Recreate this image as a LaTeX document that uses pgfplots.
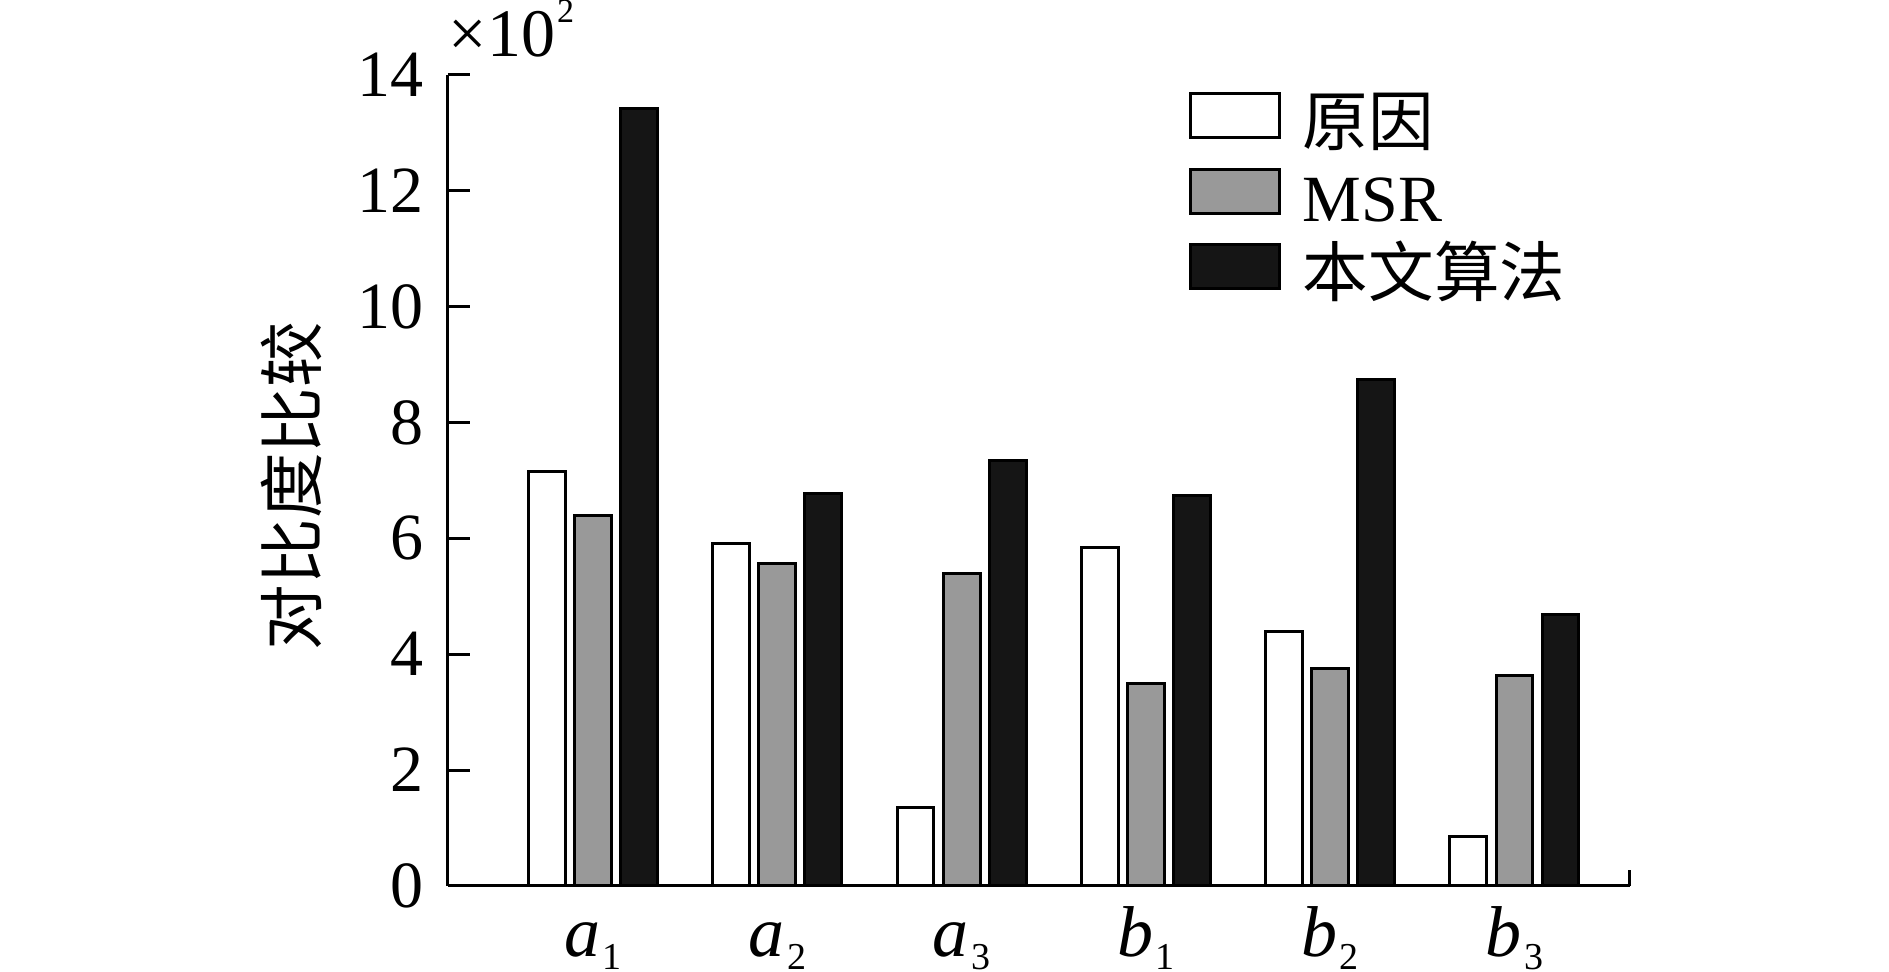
\documentclass[border=0pt]{standalone}
\usepackage{fontspec}
\setmainfont{Liberation Serif}
\newfontfamily\cjk{Noto Sans CJK SC}
\usepackage{pgfplots}
\pgfplotsset{compat=1.18}
\definecolor{barblack}{HTML}{151515}
\definecolor{bargray}{HTML}{999999}
\newcommand{\lab}[2]{\fontsize{18}{20}\selectfont\textit{#1}\kern0.6pt\raisebox{-3.25pt}[0pt][0pt]{\fontsize{9.5}{10}\selectfont #2}}
\pgfplotsset{
  mybar/.style={ybar, bar width=0.2, draw=black, line width=0.75pt,
    legend image code/.code={\draw[#1, line width=0.75pt] (0pt,-5.5pt) rectangle (22.25pt,5.5pt);}},
}
\begin{document}
\begin{tikzpicture}
\begin{axis}[
  name=ax,
  scale only axis,
  width=295.5pt, height=202.75pt,
  xmin=-0.787, xmax=5.627,
  ymin=0, ymax=14,
  axis x line=bottom, axis y line=left,
  axis line style={-, line width=0.75pt},
  xtick={0,1,2,3,4,5},
  xticklabels={\lab{a}{1},\lab{a}{2},\lab{a}{3},\lab{b}{1},\lab{b}{2},\lab{b}{3}},
  x tick style={draw=none},
  ytick={0,2,4,6,8,10,12,14},
  y tick style={line width=0.75pt, black},
  tick align=inside,
  major tick length=5.5pt,
  /pgf/number format/assume math mode=true,
  yticklabel style={font=\fontsize{16.5}{18}\selectfont, anchor=east, inner sep=0pt, xshift=-6pt},
  xticklabel style={anchor=base, inner sep=0pt, yshift=-17.75pt},
  ylabel={\cjk\fontsize{16.4}{18}\selectfont 对比度比较},
  ylabel style={at={(axis description cs:-0.1328,0.493)}, anchor=center, inner sep=0pt},
  clip=false,
  legend cell align=left,
  legend style={at={(axis description cs:0.6269,0.9914)}, anchor=north west,
    draw=none, fill=none, inner sep=0pt, outer sep=0pt,
    row sep=1.875pt,
    nodes={inner sep=0pt, outer sep=0pt, text height=16pt, text depth=1pt},
    /tikz/every odd column/.append style={column sep=5.5pt},
    font=\fontsize{16.5}{18}\selectfont},
]
\addplot[mybar, fill=white, bar shift=-0.25] coordinates {(0,7.15) (1,5.92) (2,1.35) (3,5.84) (4,4.39) (5,0.85)};
\addlegendentry{\cjk\fontsize{16.4}{18}\selectfont 原因}
\addplot[mybar, fill=bargray, bar shift=0] coordinates {(0,6.39) (1,5.56) (2,5.40) (3,3.49) (4,3.76) (5,3.64)};
\addlegendentry{MSR}
\addplot[mybar, fill=barblack, bar shift=0.25] coordinates {(0,13.43) (1,6.77) (2,7.35) (3,6.74) (4,8.75) (5,4.69)};
\addlegendentry{\cjk\fontsize{16.4}{18}\selectfont 本文算法}
\draw[line width=0.75pt] (rel axis cs:1,0) -- ([yshift=4pt]rel axis cs:1,0);
\node[anchor=base west, inner sep=0pt, font=\fontsize{17}{18}\selectfont] at ([yshift=4.5pt]rel axis cs:0,1) {×10\kern0.5pt\raisebox{8.5pt}{\fontsize{8.5}{9}\selectfont 2}};
\end{axis}
\pgfresetboundingbox
\path[use as bounding box] ([xshift=-112pt,yshift=-21.5pt]ax.south west) rectangle ++(472.25pt,243pt);
\end{tikzpicture}
\end{document}
